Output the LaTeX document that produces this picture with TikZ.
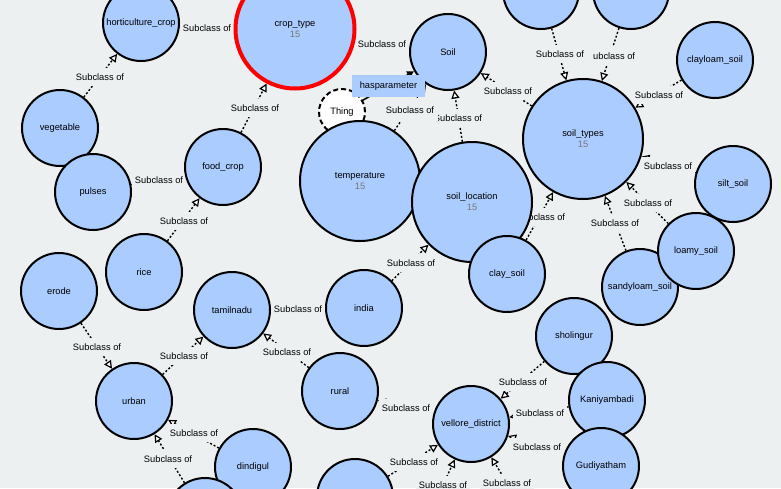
\documentclass[tikz,border=0pt]{standalone}
\usepackage{fontspec}
\setmainfont{Liberation Sans}
\usepackage{xcolor}
\usetikzlibrary{arrows.meta}
\definecolor{bgray}{HTML}{ECF0F1}
\definecolor{clsblue}{HTML}{AACCFF}
\definecolor{numgray}{HTML}{777777}
\newcommand{\vowlfont}{\fontsize{9.3}{11}\selectfont}
\pgfdeclarelayer{back}
\pgfdeclarelayer{links}
\pgfsetlayers{back,links,main}
\tikzset{
  cls/.style={circle, draw=black, line width=2pt, fill=clsblue, minimum size=76pt, inner sep=0pt, font=\vowlfont, align=center},
  clsbig/.style={cls, minimum size=120pt},
  subedge/.style={line width=1.4pt, dash pattern=on 2pt off 2pt, -{Triangle[length=8pt,width=8pt,fill=white,line width=1.2pt]}},
  propedge/.style={line width=1.5pt, -{Triangle[length=7pt,width=7pt]}},
  sublabel/.style={fill=bgray, inner xsep=3pt, inner ysep=6pt, font=\vowlfont},
  propbox/.style={fill=clsblue, minimum width=73pt, minimum height=22pt, inner sep=0pt, font=\vowlfont}
}

\begin{document}
\begin{tikzpicture}[x=1pt,y=-1pt]
\useasboundingbox (0,0) rectangle (781,488);
\clip (0,0) rectangle (781,488);
\begin{pgfonlayer}{back}
\fill[bgray] (0,0) rectangle (781,488);
\end{pgfonlayer}

% crop classes
\node[cls] (horticulture) at (141,23) {horticulture\_crop};
\node[clsbig, draw=red, line width=4pt, minimum size=119pt] (croptype) at (295,29) {crop\_type\\\textcolor{numgray}{15}};
\node[cls] (foodcrop) at (223,167) {food\_crop};
\node[cls] (vegetable) at (60,128) {vegetable};
\node[cls] (pulses) at (93,192) {pulses};
\node[cls] (rice) at (144,272) {rice};

% soil classes
\node[cls] (soil) at (448,52) {Soil};
\node[circle, draw=black, line width=2pt, dash pattern=on 5pt off 3pt, fill=white, minimum size=46pt, inner sep=0pt, font=\vowlfont] (thing) at (342,112) {Thing};
\node[clsbig] (temperature) at (360,181) {temperature\\\textcolor{numgray}{15}};
\node[clsbig] (soilloc) at (472,202) {soil\_location\\\textcolor{numgray}{15}};
\node[clsbig] (soiltypes) at (583,139) {soil\_types\\\textcolor{numgray}{15}};
\node[cls] (topa) at (541,-9) {};
\node[cls] (topb) at (631,-9) {};
\node[cls] (clayloam) at (715,60) {clayloam\_soil};
\node[cls] (silt) at (733,184) {silt\_soil};
\node[cls] (sandyloam) at (640,287) {sandyloam\_soil};
\node[cls] (loamy) at (696,251) {loamy\_soil};
\node[cls] (claysoil) at (507,274) {clay\_soil};

% location classes
\node[cls] (erode) at (59,291) {erode};
\node[cls] (tamilnadu) at (232,310) {tamilnadu};
\node[cls] (urban) at (134,401) {urban};
\node[cls] (dindigul) at (253,467) {dindigul};
\node[cls] (bota) at (205,516) {};
\node[cls] (india) at (364,308) {india};
\node[cls] (rural) at (340,391) {rural};
\node[cls] (vellore) at (471,424) {vellore\_district};
\node[cls] (botb) at (355,497) {};
\node[cls] (sholingur) at (574,336) {sholingur};
\node[cls] (kaniyambadi) at (607,400) {Kaniyambadi};
\node[cls] (gudiyatham) at (601,466) {Gudiyatham};
\coordinate (offa) at (415,546);
\coordinate (offb) at (543,542);

\node[propbox] (hasparam) at (388.5,86) {hasparameter};

\begin{pgfonlayer}{links}
\foreach \a/\b in {vegetable/horticulture, horticulture/croptype, foodcrop/croptype, pulses/foodcrop, rice/foodcrop,
  croptype/soil, temperature/soil, soilloc/soil, soiltypes/soil, topa/soiltypes, topb/soiltypes, clayloam/soiltypes,
  silt/soiltypes, loamy/soiltypes, sandyloam/soiltypes, claysoil/soiltypes, india/soilloc, tamilnadu/india,
  erode/urban, urban/tamilnadu, rural/tamilnadu, dindigul/urban, bota/urban, vellore/rural, botb/vellore,
  sholingur/vellore, kaniyambadi/vellore, gudiyatham/vellore, offa/vellore, offb/vellore}
  \draw[subedge] (\a) -- (\b);
\draw[propedge] (thing) -- (soil);
\foreach \x/\y [count=\i] in {100/77, 207/28, 255/108, 159/180, 184/221, 382/44, 458/118, 508/91, 611/56,
  659/95, 668/166, 648/203, 615/223, 541/217, 411/263, 298/309, 97/347, 184/356, 287/352, 194/433,
  168/459, 406/408, 414/462, 523/382, 540/413, 537/447, 443/485, 507/483}
  \node[sublabel] (sub\i) at (\x,\y) {Subclass of};
\node[sublabel, inner xsep=4pt, inner ysep=7.5pt] (subtemp) at (410,110) {Subclass of};
\node[sublabel, inner xsep=9pt] (subtopa) at (560,54) {Subclass of};
\end{pgfonlayer}
\end{tikzpicture}
\end{document}
